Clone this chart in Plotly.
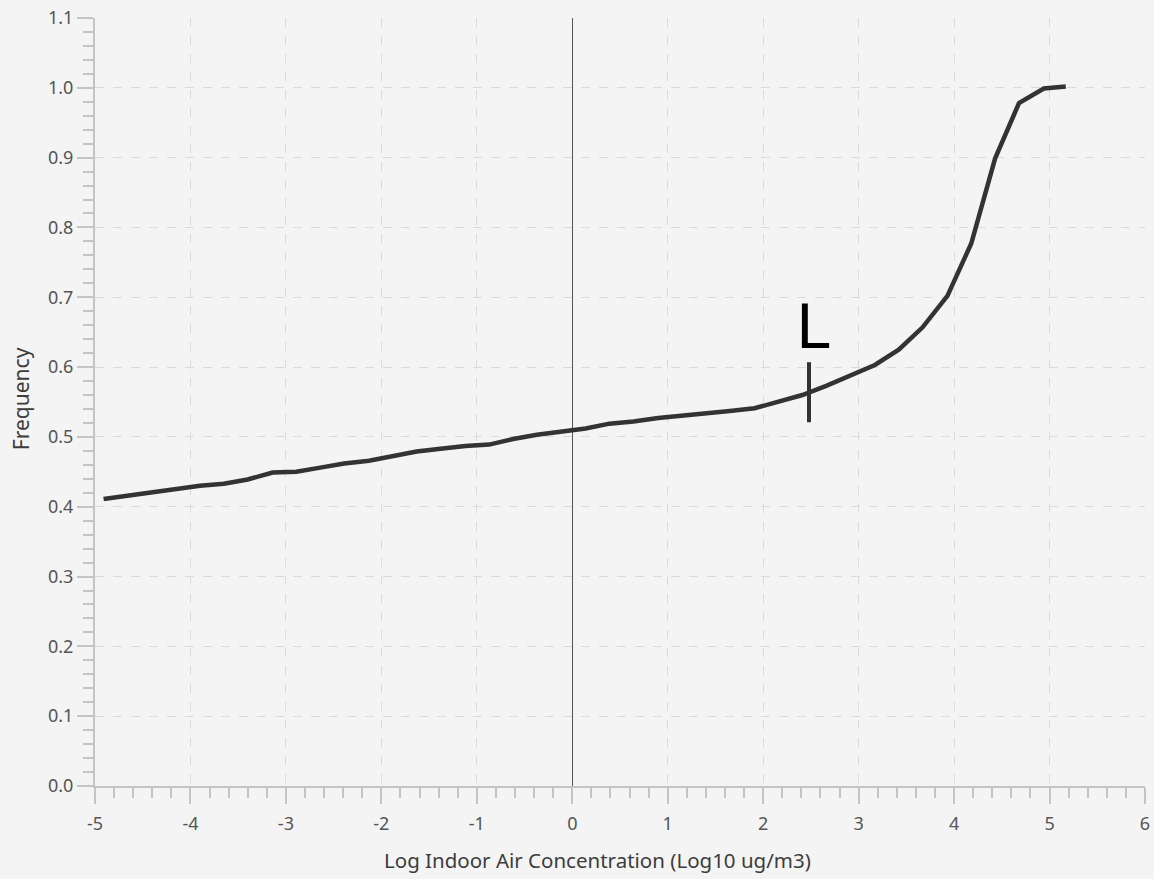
import plotly.graph_objects as go

# Data
log_conc = [-4.91, -4.66, -4.41, -4.15, -3.90, -3.65, -3.40, -3.14, -2.89, -2.64,
            -2.39, -2.13, -1.88, -1.63, -1.38, -1.12, -0.87, -0.62, -0.37, -0.11,
            0.14, 0.39, 0.64, 0.90, 1.15, 1.40, 1.65, 1.91, 2.16, 2.41,
            2.66, 2.92, 3.17, 3.42, 3.67, 3.93, 4.18, 4.43, 4.68, 4.94, 5.17]
frequency = [0.411, 0.416, 0.421, 0.426, 0.430, 0.433, 0.439, 0.449, 0.450, 0.456,
             0.462, 0.466, 0.472, 0.479, 0.483, 0.487, 0.489, 0.497, 0.503, 0.508,
             0.512, 0.519, 0.522, 0.527, 0.530, 0.534, 0.537, 0.541, 0.551, 0.560,
             0.573, 0.589, 0.603, 0.625, 0.657, 0.702, 0.777, 0.899, 0.978, 0.999, 1.002]

marker_x = [2.48, 2.48]
marker_y = [0.521, 0.607]
marker_label = "L"
label_x = 2.52
label_y = 0.658

x_ticks = [-5, -4, -3, -2, -1, 0, 1, 2, 3, 4, 5, 6]
y_ticks = [0.0, 0.1, 0.2, 0.3, 0.4, 0.5, 0.6, 0.7, 0.8, 0.9, 1.0, 1.1]
x_title = "Log Indoor Air Concentration (Log10 ug/m3)"
y_title = "Frequency"

axis_col = "#c4c4c4"
grid_col = "#dadada"
font_fam = "Noto Sans, Open Sans, sans-serif"

fig = go.Figure()
fig.add_trace(go.Scatter(x=log_conc, y=frequency, mode="lines",
                         line=dict(color="#333333", width=4.5),
                         hoverinfo="x+y", showlegend=False))
fig.add_trace(go.Scatter(x=marker_x, y=marker_y, mode="lines",
                         line=dict(color="#333333", width=4),
                         hoverinfo="skip", showlegend=False))

fig.add_annotation(x=label_x, y=label_y, text=marker_label, showarrow=False,
                   font=dict(family="DejaVu Sans, sans-serif", size=60, color="#000000"),
                   xanchor="center", yanchor="middle")

# axis titles (placed as annotations to match the reference's offsets)
fig.add_annotation(x=0.479, y=-0.0964, xref="paper", yref="paper", text=x_title,
                   showarrow=False, xanchor="center", yanchor="middle",
                   font=dict(size=20.5, color="#3c3c3c"))
fig.add_annotation(x=-0.0705, y=0.505, xref="paper", yref="paper", text=y_title,
                   showarrow=False, xanchor="center", yanchor="middle", textangle=-90,
                   font=dict(size=21, color="#3c3c3c"))

fig.update_layout(
    width=1154, height=879,
    margin=dict(l=95, r=9, t=18, b=93, autoexpand=False),
    paper_bgcolor="#f4f4f4", plot_bgcolor="#f4f4f4",
    font=dict(family=font_fam, color="#555555", size=16),
)
fig.update_xaxes(
    range=[-5, 6], tickvals=x_ticks, ticktext=[str(v) for v in x_ticks],
    automargin=False,
    showline=True, linecolor=axis_col, linewidth=2,
    ticks="outside", ticklen=16, tickcolor=axis_col, tickwidth=2,
    showgrid=True, gridcolor=grid_col, griddash="dash", gridwidth=1,
    zeroline=True, zerolinecolor="#555555", zerolinewidth=1,
    minor=dict(dtick=0.2, ticks="outside", ticklen=10, tickcolor=axis_col, tickwidth=2, showgrid=False),
    tickfont=dict(size=18, color="#555555"), ticklabelstandoff=4,
)
fig.update_yaxes(
    range=[0, 1.1], tickvals=y_ticks, ticktext=[f"{v:.1f}" for v in y_ticks],
    automargin=False,
    showline=True, linecolor=axis_col, linewidth=2,
    ticks="outside", ticklen=16, tickcolor=axis_col, tickwidth=2,
    showgrid=True, gridcolor=grid_col, griddash="dash", gridwidth=1,
    zeroline=False,
    minor=dict(dtick=0.02, ticks="outside", ticklen=10, tickcolor=axis_col, tickwidth=2, showgrid=False),
    tickfont=dict(size=18, color="#555555"),
)

fig.write_html("out.html")
